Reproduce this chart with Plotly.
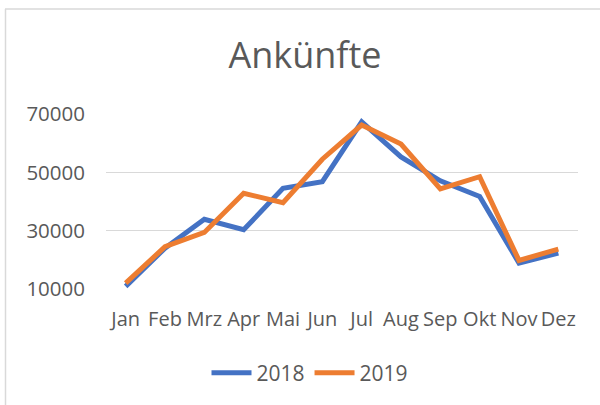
import plotly.graph_objects as go

months = ["Jan", "Feb", "Mrz", "Apr", "Mai", "Jun", "Jul", "Aug", "Sep", "Okt", "Nov", "Dez"]
arr_2018 = [10900, 24000, 33900, 30300, 44500, 46800, 67300, 55300, 47100, 41700, 18900, 22300]
arr_2019 = [12000, 24500, 29400, 42800, 39600, 54500, 66200, 59700, 44300, 48500, 19800, 23700]
y_ticks = [10000, 30000, 50000, 70000]

FONT = "Open Sans"
GREY = "#595959"

idx = list(range(len(months)))

fig = go.Figure()
fig.add_trace(go.Scatter(x=idx, y=arr_2018, mode="lines", name="2018",
                         line=dict(color="#4472C4", width=5)))
fig.add_trace(go.Scatter(x=idx, y=arr_2019, mode="lines", name="2019",
                         line=dict(color="#ED7D31", width=5)))

W, H = 600, 405
L, R, T, B = 106, 22, 114, 116
pw, ph = W - L - R, H - T - B

def px_x(p):
    return (p - L) / pw

def px_y(p):
    return 1 - (p - T) / ph

fig.update_layout(
    width=W, height=H,
    margin=dict(l=L, r=R, t=T, b=B, pad=0, autoexpand=False),
    paper_bgcolor="white", plot_bgcolor="white",
    font=dict(family=FONT, color=GREY, size=20),
    title=dict(text="Ankünfte", x=px_x(305), xanchor="center", xref="paper",
               y=1 - 55 / H, yanchor="middle",
               font=dict(family=FONT, size=36, color=GREY)),
    xaxis=dict(range=[-0.5, len(months) - 0.5], tickmode="array", tickvals=idx,
               ticktext=months, showgrid=False, zeroline=False, showline=False,
               ticks="", ticklabelstandoff=16, tickfont=dict(size=20, color=GREY),
               fixedrange=True),
    yaxis=dict(range=[10000, 70000], tickmode="array", tickvals=y_ticks,
               ticktext=[str(v) for v in y_ticks], showgrid=True,
               gridcolor="#D9D9D9", gridwidth=1.3, zeroline=False, showline=False,
               ticks="", ticklabelstandoff=20, tickfont=dict(size=20.5, color=GREY),
               fixedrange=True),
    showlegend=True,
    legend=dict(orientation="h", x=px_x(310), xanchor="center", xref="paper",
                y=px_y(373), yanchor="middle", font=dict(size=21, color=GREY),
                itemwidth=40, bgcolor="rgba(0,0,0,0)"),
    shapes=[
        dict(type="line", xref="paper", yref="paper", x0=px_x(5.5), x1=px_x(5.5),
             y0=px_y(9), y1=px_y(420), line=dict(color="#D9D9D9", width=1.5)),
        dict(type="line", xref="paper", yref="paper", x0=px_x(5), x1=px_x(620),
             y0=px_y(9), y1=px_y(9), line=dict(color="#D9D9D9", width=1.5)),
    ],
)

fig.write_html("out.html", config={"displayModeBar": False},
               post_script="document.body.style.margin='0';")
